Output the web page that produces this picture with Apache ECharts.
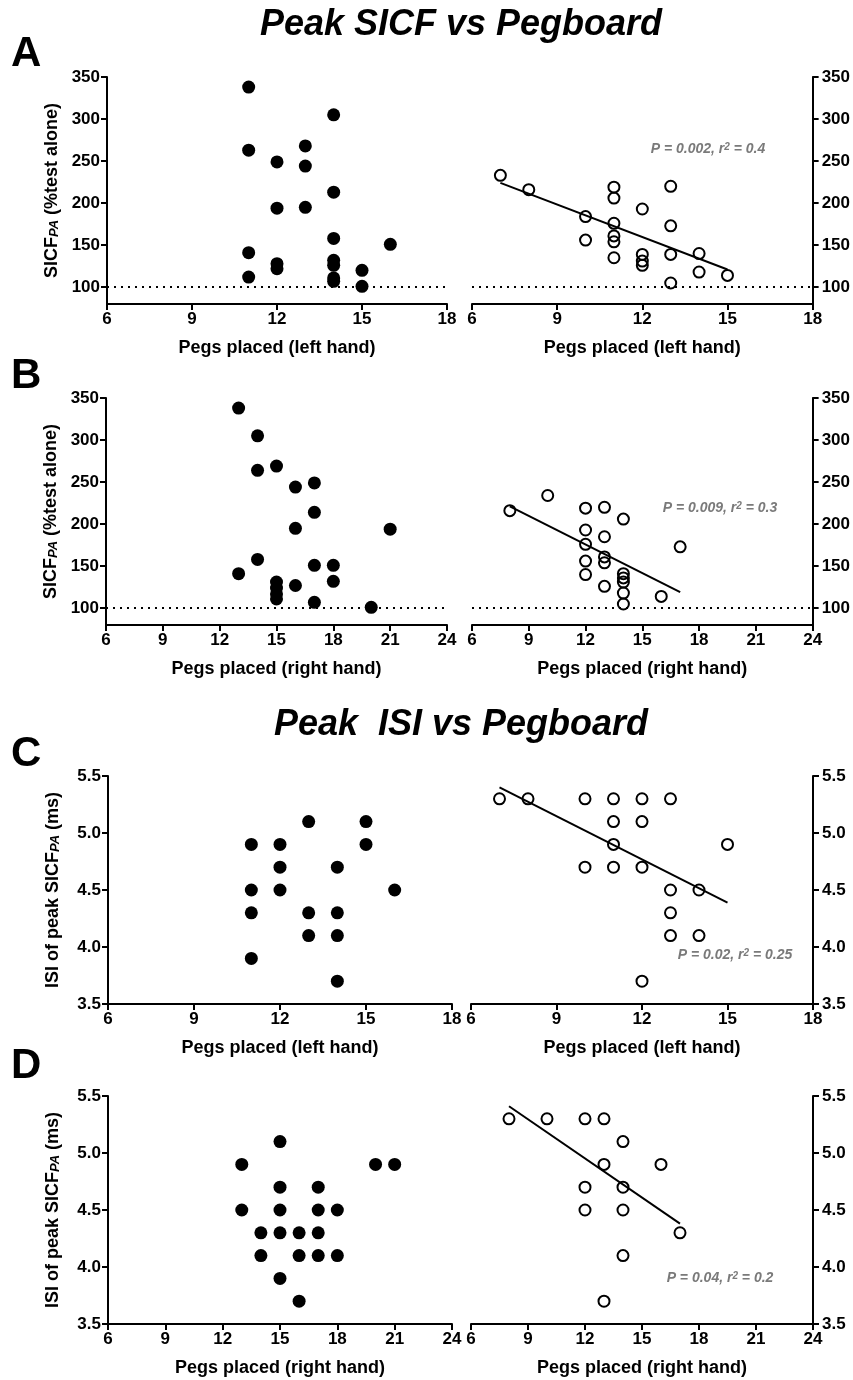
<!DOCTYPE html>
<html>
<head>
<meta charset="utf-8">
<script src="https://cdn.jsdelivr.net/npm/echarts@6/dist/echarts.min.js"></script>
<style>
  html, body { margin: 0; padding: 0; background: #fff; }
  #chart { width: 853px; height: 1380px; }
</style>
</head>
<body>
<div id="chart"></div>
<script>
// ---- data ----
// A: peak SICF vs pegs placed, left hand
const aFilledPegs = [11, 11, 11, 11, 12, 12, 12, 12, 13, 13, 13, 14, 14, 14, 14, 14, 14, 14, 15, 15, 16];
const aFilledSicf = [338, 263, 141, 112, 249, 194, 128, 122, 268, 244, 195, 305, 213, 158, 132, 126, 111, 107, 120, 101, 151];
const aOpenPegs = [7, 8, 10, 10, 11, 11, 11, 11, 11, 11, 12, 12, 12, 12, 13, 13, 13, 13, 14, 14, 15];
const aOpenSicf = [233, 216, 184, 156, 219, 206, 176, 161, 154, 135, 193, 139, 131, 126, 220, 173, 139, 105, 140, 118, 114];
const aFitPegs = [7, 15];
const aFitSicf = [224, 121];

// B: peak SICF vs pegs placed, right hand
const bFilledPegs = [13, 13, 14, 14, 14, 15, 15, 15, 15, 15, 16, 16, 16, 17, 17, 17, 17, 18, 18, 20, 21];
const bFilledSicf = [338, 141, 305, 264, 158, 269, 131, 124, 117, 111, 244, 195, 127, 249, 214, 151, 107, 151, 132, 101, 194];
const bOpenPegs = [8, 10, 12, 12, 12, 12, 12, 13, 13, 13, 13, 13, 14, 14, 14, 14, 14, 14, 16, 17];
const bOpenSicf = [216, 234, 219, 193, 176, 156, 140, 220, 185, 161, 154, 126, 206, 141, 136, 131, 118, 105, 114, 173];
const bFitPegs = [8, 17];
const bFitSicf = [221, 119];

// C: ISI of peak vs pegs placed, left hand
const cFilledPegs = [11, 11, 11, 11, 12, 12, 12, 13, 13, 13, 14, 14, 14, 14, 15, 15, 16];
const cFilledIsi = [4.9, 4.5, 4.3, 3.9, 4.9, 4.7, 4.5, 5.1, 4.3, 4.1, 4.7, 4.3, 4.1, 3.7, 5.1, 4.9, 4.5];
const cOpenPegs = [7, 8, 10, 10, 11, 11, 11, 11, 12, 12, 12, 12, 13, 13, 13, 13, 14, 14, 15];
const cOpenIsi = [5.3, 5.3, 5.3, 4.7, 5.3, 5.1, 4.9, 4.7, 5.3, 5.1, 4.7, 3.7, 5.3, 4.5, 4.3, 4.1, 4.5, 4.1, 4.9];
const cFitPegs = [7, 15];
const cFitIsi = [5.40, 4.39];

// D: ISI of peak vs pegs placed, right hand
const dFilledPegs = [13, 13, 14, 14, 15, 15, 15, 15, 15, 16, 16, 16, 17, 17, 17, 17, 18, 18, 20, 21];
const dFilledIsi = [4.9, 4.5, 4.3, 4.1, 5.1, 4.7, 4.5, 4.3, 3.9, 4.3, 4.1, 3.7, 4.7, 4.5, 4.3, 4.1, 4.5, 4.1, 4.9, 4.9];
const dOpenPegs = [8, 10, 12, 12, 12, 13, 13, 13, 14, 14, 14, 14, 16, 17];
const dOpenIsi = [5.3, 5.3, 5.3, 4.7, 4.5, 5.3, 4.9, 3.7, 5.1, 4.7, 4.5, 4.1, 4.9, 4.3];
const dFitPegs = [8, 17];
const dFitIsi = [5.41, 4.38];

const sicfTicks = [100, 150, 200, 250, 300, 350];
const sicfBaseline = 100;
const statsText = ['P = 0.002, r|2| = 0.4', 'P = 0.009, r|2| = 0.3', 'P = 0.02, r|2| = 0.25', 'P = 0.04, r|2| = 0.2'];

// ---- helpers ----
const FONT = 'Liberation Sans, Arial, Helvetica, sans-serif';
const zip = (xs, ys) => xs.map((x, i) => [x, ys[i]]);
const black = { color: '#000', width: 2 };

const grids = [
    { left: 107, top: 77, width: 340, height: 227 },
    { left: 472, top: 77, width: 341, height: 227 },
    { left: 106, top: 398, width: 341, height: 227 },
    { left: 472, top: 398, width: 341, height: 227 },
    { left: 108, top: 776, width: 344, height: 228 },
    { left: 471, top: 776, width: 342, height: 228 },
    { left: 108, top: 1096, width: 344, height: 228 },
    { left: 471, top: 1096, width: 342, height: 228 }
];

function xAxis(gi, max, hand) {
    return {
        type: 'value', gridIndex: gi, min: 6, max: max, interval: 3,
        name: 'Pegs placed (' + hand + ' hand)', nameLocation: 'middle', nameGap: 35,
        nameTextStyle: { fontFamily: FONT, fontSize: 18, fontWeight: 'bold', color: '#000' },
        axisLine: { onZero: false, lineStyle: black },
        axisTick: { length: 6, lineStyle: black },
        axisLabel: { margin: 7, fontFamily: FONT, fontSize: 17, fontWeight: 'bold', color: '#000' },
        splitLine: { show: false }
    };
}

function yAxis(gi, kind, right) {
    const ax = {
        type: 'value', gridIndex: gi, position: right ? 'right' : 'left',
        axisLine: { show: true, onZero: false, lineStyle: black },
        axisTick: { show: true, length: 6, lineStyle: black },
        axisLabel: { margin: right ? 9 : 7, fontFamily: FONT, fontSize: 17, fontWeight: 'bold', color: '#000' },
        splitLine: { show: false }
    };
    if (kind === 'sicf') {
        ax.min = 80; ax.max = 350;
        ax.axisTick.customValues = sicfTicks;
        ax.axisLabel.customValues = sicfTicks;
    } else {
        ax.min = 3.5; ax.max = 5.5; ax.interval = 0.5;
        ax.axisLabel.formatter = v => v.toFixed(1);
    }
    if (!right) {
        const mainPart = kind === 'sicf' ? 'SICF' : 'ISI of peak SICF';
        const tail = kind === 'sicf' ? ' (%test alone)' : ' (ms)';
        ax.name = '{n|' + mainPart + '}{s|PA}{n|' + tail + '}';
        ax.nameLocation = 'middle';
        ax.nameGap = 46;
        ax.nameTextStyle = {
            rich: {
                n: { fontFamily: FONT, fontSize: 18, fontWeight: 'bold', color: '#000', lineHeight: 18 },
                s: { fontFamily: FONT, fontSize: 13, fontWeight: 'bold', fontStyle: 'italic', color: '#000',
                     verticalAlign: 'bottom', lineHeight: 8 }
            }
        };
    }
    return ax;
}

function dotted() {
    return {
        silent: true, symbol: ['none', 'none'], label: { show: false },
        lineStyle: { color: '#000', width: 2, type: [2, 5], opacity: 1 },
        data: [{ yAxis: sicfBaseline }]
    };
}

function filled(gi, xs, ys, withBase) {
    const s = {
        type: 'scatter', xAxisIndex: gi, yAxisIndex: gi, data: zip(xs, ys),
        symbol: 'circle', symbolSize: 13, itemStyle: { color: '#000', opacity: 1 }
    };
    if (withBase) s.markLine = dotted();
    return s;
}

function open(gi, xs, ys, withBase) {
    const s = {
        type: 'scatter', xAxisIndex: gi, yAxisIndex: gi, data: zip(xs, ys),
        symbol: 'circle', symbolSize: 11,
        itemStyle: { color: 'rgba(0,0,0,0)', borderColor: '#000', borderWidth: 2, opacity: 1 }
    };
    if (withBase) s.markLine = dotted();
    return s;
}

function fit(gi, xs, ys) {
    return {
        type: 'line', xAxisIndex: gi, yAxisIndex: gi, data: zip(xs, ys),
        symbol: 'none', lineStyle: { color: '#000', width: 2 }, silent: true
    };
}

function stat(str, x, y) {
    const p = str.split('|');
    return {
        type: 'text', x: x, y: y,
        style: {
            text: '{t|' + p[0] + '}{u|' + p[1] + '}{t|' + p[2] + '}',
            textAlign: 'center', textVerticalAlign: 'middle',
            rich: {
                t: { fontFamily: FONT, fontSize: 14, fontWeight: 'bold', fontStyle: 'italic', fill: '#7a7a7a' },
                u: { fontFamily: FONT, fontSize: 10, fontWeight: 'bold', fontStyle: 'italic', fill: '#7a7a7a', verticalAlign: 'top' }
            }
        }
    };
}

function bigText(txt, x, y, font, align) {
    return {
        type: 'text', x: x, y: y,
        style: { text: txt, font: font, fill: '#000', textAlign: align, textVerticalAlign: 'middle' }
    };
}

const chart = echarts.init(document.getElementById('chart'));
chart.setOption({
    animation: false,
    backgroundColor: '#fff',
    grid: grids,
    xAxis: [
        xAxis(0, 18, 'left'), xAxis(1, 18, 'left'),
        xAxis(2, 24, 'right'), xAxis(3, 24, 'right'),
        xAxis(4, 18, 'left'), xAxis(5, 18, 'left'),
        xAxis(6, 24, 'right'), xAxis(7, 24, 'right')
    ],
    yAxis: [
        yAxis(0, 'sicf', false), yAxis(1, 'sicf', true),
        yAxis(2, 'sicf', false), yAxis(3, 'sicf', true),
        yAxis(4, 'isi', false), yAxis(5, 'isi', true),
        yAxis(6, 'isi', false), yAxis(7, 'isi', true)
    ],
    series: [
        filled(0, aFilledPegs, aFilledSicf, true),
        open(1, aOpenPegs, aOpenSicf, true),
        fit(1, aFitPegs, aFitSicf),
        filled(2, bFilledPegs, bFilledSicf, true),
        open(3, bOpenPegs, bOpenSicf, true),
        fit(3, bFitPegs, bFitSicf),
        filled(4, cFilledPegs, cFilledIsi, false),
        open(5, cOpenPegs, cOpenIsi, false),
        fit(5, cFitPegs, cFitIsi),
        filled(6, dFilledPegs, dFilledIsi, false),
        open(7, dOpenPegs, dOpenIsi, false),
        fit(7, dFitPegs, dFitIsi)
    ],
    graphic: [
        bigText('Peak SICF vs Pegboard', 461, 25, 'italic bold 36px ' + FONT, 'center'),
        bigText('Peak  ISI vs Pegboard', 461, 725, 'italic bold 36px ' + FONT, 'center'),
        bigText('A', 11, 54, 'bold 42px ' + FONT, 'left'),
        bigText('B', 11, 376, 'bold 42px ' + FONT, 'left'),
        bigText('C', 11, 754, 'bold 42px ' + FONT, 'left'),
        bigText('D', 11, 1066, 'bold 42px ' + FONT, 'left'),
        stat(statsText[0], 708, 149),
        stat(statsText[1], 720, 508),
        stat(statsText[2], 735, 955),
        stat(statsText[3], 720, 1278)
    ]
});
</script>
</body>
</html>
